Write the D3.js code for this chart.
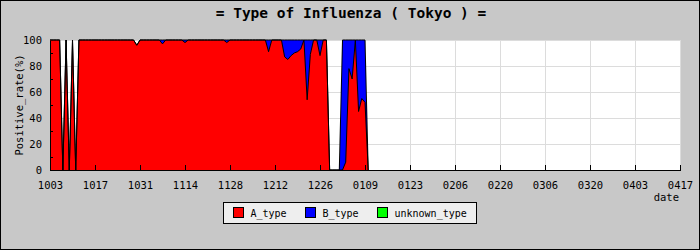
<!DOCTYPE html>
<html>
<head>
<meta charset="utf-8">
<script src="https://cdn.jsdelivr.net/npm/d3@7"></script>
<style>
  html, body { margin: 0; padding: 0; background: #c8c8c8; }
  svg { display: block; }
  text { font-family: "DejaVu Sans Mono", monospace; fill: #000; }
</style>
</head>
<body>
<svg id="chart" width="700" height="250"></svg>
<script>
// ---- data ----
const tickLabels = ["1003","1017","1031","1114","1128","1212","1226","0109","0123","0206","0220","0306","0320","0403","0417"];
const totalDays = 196;
const seriesKeys = ["A_type", "B_type", "unknown_type"];
const seriesColors = ["#ff0000", "#0000ff", "#00ff00"];
const aType = [
  100,100,100,100,0,100,0,100,0,100,
  100,100,100,100,100,100,100,100,100,100,
  100,100,100,100,100,100,100,96,100,100,
  100,100,100,100,100,97,100,100,100,100,
  100,100,98,100,100,100,100,100,100,100,
  100,100,100,100,100,98,100,100,100,100,
  100,100,100,100,100,100,100,100,91,100,
  100,100,100,87,85,88,90,91,93,100,
  54,89,100,100,88,100,100,0,0,0,
  0,0,6,78,70,100,45,55,52,0
];
const bType = [
  0,0,0,0,0,0,0,0,0,0,
  0,0,0,0,0,0,0,0,0,0,
  0,0,0,0,0,0,0,0,0,0,
  0,0,0,0,0,3,0,0,0,0,
  0,0,2,0,0,0,0,0,0,0,
  0,0,0,0,0,2,0,0,0,0,
  0,0,0,0,0,0,0,0,9,0,
  0,0,0,13,15,12,10,9,7,0,
  46,11,0,0,12,0,0,0,0,0,
  0,100,94,22,30,0,55,45,48,0
];
const unknownType = [
  0,0,0,0,0,0,0,0,0,0,
  0,0,0,0,0,0,0,0,0,0,
  0,0,0,0,0,0,0,0,0,0,
  0,0,0,0,0,0,0,0,0,0,
  0,0,0,0,0,0,0,0,0,0,
  0,0,0,0,0,0,0,0,0,0,
  0,0,0,0,0,0,0,0,0,0,
  0,0,0,0,0,0,0,0,0,0,
  0,0,0,0,0,0,0,0,0,0,
  0,0,0,0,0,0,0,0,0,0
];
const yMajor = [0, 20, 40, 60, 80, 100];
const yMinor = [10, 30, 50, 70, 90];

// ---- layout ----
const W = 700, H = 250;
const m = { left: 50, right: 20, top: 40, bottom: 80 };
const svg = d3.select("#chart");

svg.append("rect").attr("x", 0.5).attr("y", 0.5).attr("width", W - 1).attr("height", H - 1)
  .attr("fill", "#c8c8c8").attr("stroke", "#000");

const x = d3.scaleLinear().domain([0, totalDays]).range([m.left, W - m.right]);
const y = d3.scaleLinear().domain([0, 100]).range([H - m.bottom, m.top]);
const tickIdx = tickLabels.map((d, i) => i * 14);

// plot background
svg.append("rect").attr("x", x(0)).attr("y", y(100))
  .attr("width", x(totalDays) - x(0)).attr("height", y(0) - y(100)).attr("fill", "#fff");

// grid
const grid = svg.append("g").attr("stroke", "#dcdcdc").attr("shape-rendering", "crispEdges");
grid.selectAll(".h").data(yMajor.filter(v => v > 0)).join("line")
  .attr("x1", x(0)).attr("x2", x(totalDays)).attr("y1", d => y(d)).attr("y2", d => y(d));
grid.selectAll(".v").data(tickIdx.slice(1)).join("line")
  .attr("x1", d => x(d)).attr("x2", d => x(d)).attr("y1", y(0)).attr("y2", y(100));

// stacked data
const table = aType.map((a, i) => ({ i: i, A_type: a, B_type: bType[i], unknown_type: unknownType[i] }));
const stacked = d3.stack().keys(seriesKeys)(table);
const area = d3.area().x(d => x(d.data.i)).y0(d => y(d[0])).y1(d => y(d[1])).curve(d3.curveLinear);
const line = d3.line().x(d => x(d.data.i)).y(d => y(d[1])).curve(d3.curveLinear);

svg.append("g").selectAll("path").data(stacked).join("path")
  .attr("d", area).attr("fill", (d, i) => seriesColors[i]).attr("stroke", "none")
  .attr("shape-rendering", "crispEdges");
svg.append("g").selectAll("path").data(stacked.slice(0, 2)).join("path")
  .attr("d", line).attr("fill", "none").attr("stroke", "#000").attr("stroke-width", 1);

// axes
const xAxis = d3.axisBottom(x).tickValues(tickIdx).tickFormat((d, i) => tickLabels[i])
  .tickSizeInner(-5).tickSizeOuter(0).tickPadding(12);
const gx = svg.append("g").attr("transform", `translate(0,${y(0)})`).call(xAxis);
gx.selectAll("text").style("font-size", "10.5px").attr("fill", "#000");
gx.selectAll("line,path").attr("stroke", "#000").attr("shape-rendering", "crispEdges");

const yAxis = d3.axisLeft(y).tickValues(yMajor).tickSizeInner(0).tickSizeOuter(0).tickPadding(8);
const gy = svg.append("g").attr("transform", `translate(${x(0)},0)`).call(yAxis);
gy.selectAll("text").style("font-size", "10.5px").attr("fill", "#000");
gy.selectAll("line,path").attr("stroke", "#000").attr("shape-rendering", "crispEdges");

svg.append("g").selectAll("line").data(yMinor).join("line")
  .attr("x1", x(0)).attr("x2", x(0) + 3).attr("y1", d => y(d)).attr("y2", d => y(d))
  .attr("stroke", "#000").attr("shape-rendering", "crispEdges");

// titles
svg.append("text").attr("x", 351).attr("y", 18).attr("text-anchor", "middle")
  .style("font-size", "14.5px").style("font-weight", "bold").text("= Type of Influenza ( Tokyo ) =");
svg.append("text").attr("transform", `translate(23,${(y(0) + y(100)) / 2}) rotate(-90)`)
  .attr("text-anchor", "middle").style("font-size", "10.5px").text("Positive_rate(%)");
svg.append("text").attr("x", 679).attr("y", 201).attr("text-anchor", "end")
  .style("font-size", "10.5px").text("date");

// legend
const lg = svg.append("g");
lg.append("rect").attr("x", 223.5).attr("y", 202.5).attr("width", 253).attr("height", 21)
  .attr("fill", "#eeeeee").attr("stroke", "#000");
const legX = [233.5, 305.5, 377.5];
seriesKeys.forEach((k, i) => {
  lg.append("rect").attr("x", legX[i]).attr("y", 207.5).attr("width", 10).attr("height", 10)
    .attr("fill", seriesColors[i]).attr("stroke", "#000");
  lg.append("text").attr("x", legX[i] + 17).attr("y", 216.5).style("font-size", "10px").text(k);
});
</script>
</body>
</html>
